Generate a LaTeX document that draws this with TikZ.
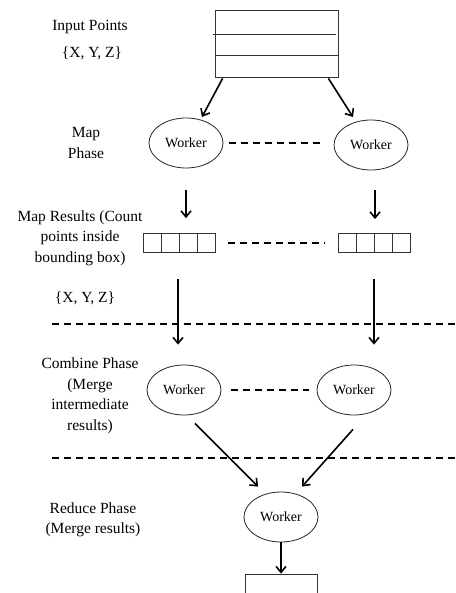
\documentclass[tikz,border=0pt]{standalone}
\usepackage{fontspec}
\setmainfont{Liberation Serif}
\usetikzlibrary{arrows.meta,calc,shapes.geometric}

\tikzset{
  label text/.style={align=center, font=\fontsize{15.5}{20.5}\selectfont, inner sep=0pt},
  worker/.style={ellipse, draw=black!85, line width=0.8pt, minimum width=74pt,
    minimum height=50pt, inner sep=0pt, font=\fontsize{14}{16}\selectfont},
  plainbox/.style={rectangle, draw=black!80, line width=0.8pt, inner sep=0pt},
  cellbox/.style={plainbox, minimum width=72pt, minimum height=19pt,
    path picture={
      \foreach \i in {1,2,3}
        \draw[black!80, line width=0.8pt]
          ($(path picture bounding box.south west)!\i/4!(path picture bounding box.south east)$) --
          ($(path picture bounding box.north west)!\i/4!(path picture bounding box.north east)$);
    }},
  flow/.style={line width=1.6pt, -{Straight Barb[length=6pt,width=10pt,line width=1.6pt]}},
  peer/.style={line width=1.6pt, dash pattern=on 7pt off 5pt},
  separator/.style={line width=1.1pt, dash pattern=on 7pt off 5pt}
}

\begin{document}
\begin{tikzpicture}[x=1pt, y=-1pt]
\useasboundingbox (0,0) rectangle (455,593);

% phase labels
\node[label text] (lin) at (90,27) {Input Points};
\node[label text] (lxyz) at (92,53) {\{X, Y, Z\}};
\node[label text] (lmap) at (86,143) {Map\\Phase};
\node[label text] (lres) at (80,238) {Map Results (Count\\points inside\\bounding box)};
\node[label text] (lxyz2) at (85,298) {\{X, Y, Z\}};
\node[label text] (lcomb) at (90,396) {Combine Phase\\(Merge\\intermediate\\results)};
\node[label text] (lred) at (93,520) {Reduce Phase\\(Merge results)};

% input table
\node[plainbox, minimum width=123pt, minimum height=67pt] (inbox) at (276.5,43.5) {};
\draw[black!80, line width=0.8pt] ($(inbox.north west)+(-2,25)$) -- ($(inbox.north east)+(-2,25)$);
\draw[black!80, line width=0.8pt] ($(inbox.north west)+(0,46)$) -- ($(inbox.north east)+(0,46)$);

% map phase
\node[worker] (mw1) at (186,143) {Worker};
\node[worker] (mw2) at (371,145) {Worker};

% map results
\node[cellbox] (rb1) at (179,243) {};
\node[cellbox] (rb2) at (374,243) {};

% combine phase
\node[worker] (cw1) at (184,390) {Worker};
\node[worker] (cw2) at (354,390) {Worker};

% reduce phase
\node[worker] (rw) at (281,517) {Worker};
\node[plainbox, minimum width=72pt, minimum height=52pt] (outbox) at (281,600) {};

% phase separators
\draw[separator] (52,324) -- (455,324);
\draw[separator] (52,458) -- (455,458);

% connectors
\draw[flow] ($(inbox.south west)+(8,1)$) -- ($(mw1.center)+(16,-26)$);
\draw[flow] ($(inbox.south east)+(-10,1)$) -- ($(mw2.center)+(-18,-28)$);
\draw[peer] ($(mw1.east)+(6,0)$) -- ($(mw2.west)+(-9,-2)$);

\draw[flow] ($(mw1.south)+(0,22)$) -- ($(rb1.north)+(7,-15)$);
\draw[flow] ($(mw2.south)+(4,20)$) -- ($(rb2.north)+(1,-14)$);
\draw[peer] ($(rb1.east)+(13,0)$) -- ($(rb2.west)+(-13,0)$);

\draw[flow] ($(rb1.south)+(-1,26)$) -- ($(cw1.north)+(-6,-20)$);
\draw[flow] ($(rb2.south)+(0,26)$) -- ($(cw2.north)+(20,-20)$);
\draw[peer] ($(cw1.east)+(10,0)$) -- ($(cw2.west)+(-8,0)$);

\draw[flow] ($(cw1.south)+(11,8)$) -- ($(rw.north)+(-23,-5)$);
\draw[flow] ($(cw2.south)+(-1,14)$) -- ($(rw.north)+(21,-5)$);
\draw[flow] (rw.south) -- (outbox.north);
\end{tikzpicture}
\end{document}
